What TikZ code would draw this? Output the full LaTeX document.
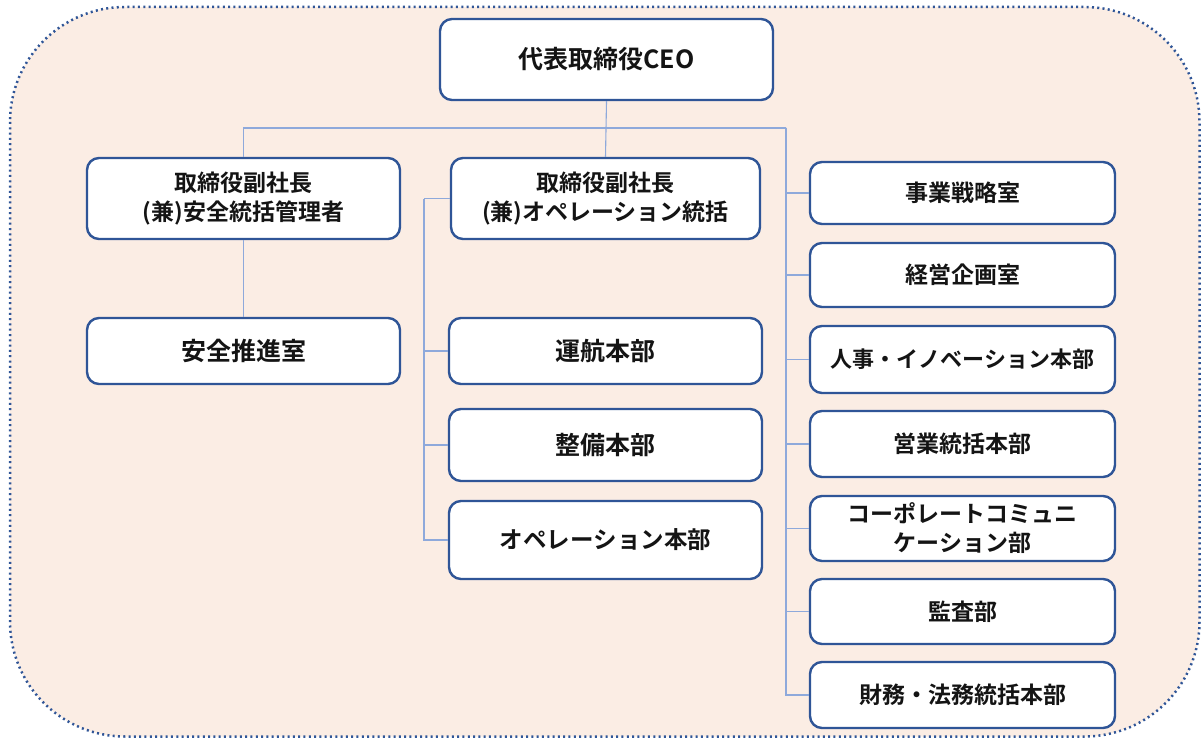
\documentclass[tikz,border=0pt]{standalone}
\usepackage{fontspec}
\setmainfont{Noto Sans CJK JP}[BoldFont={* Bold}]
\definecolor{bgfill}{HTML}{FBEDE4}
\definecolor{frame}{HTML}{2F5597}
\definecolor{boxline}{HTML}{2F5597}
\definecolor{wire}{HTML}{8EA9DB}
\definecolor{ink}{HTML}{141414}
\tikzset{
  orgbox/.style={draw=boxline, line width=2.4pt, fill=white, rounded corners=12pt,
    align=center, text=ink, inner sep=0pt,
    font=\fontsize{23}{29}\selectfont\bfseries},
  bigtext/.style={font=\fontsize{25}{30}\selectfont\bfseries},
  wireline/.style={draw=wire, line width=1.1pt},
}
\begin{document}
\begin{tikzpicture}[x=1pt,y=-1pt]
\useasboundingbox (0,0) rectangle (1201,738);
\draw[fill=bgfill, draw=frame, line width=2.5pt, dash pattern=on 2pt off 3.3pt, rounded corners=115pt]
  (10,7) rectangle (1199.5,736.5);

\coordinate (rbus) at (786,128);
\coordinate (mbus) at (424,198.5);

\node[orgbox, bigtext, minimum width=333pt, minimum height=81pt] (ceo) at (606.5,59.5) {代表取締役CEO};
\node[orgbox, minimum width=313pt, minimum height=81pt] (vp1) at (243.5,198.5) {取締役副社長\\(兼)安全統括管理者};
\node[orgbox, minimum width=309pt, minimum height=81pt] (vp2) at (605.5,198.5) {取締役副社長\\(兼)オペレーション統括};
\node[orgbox, bigtext, minimum width=313pt, minimum height=66pt] (anzen) at (243.5,351) {安全推進室};
\node[orgbox, bigtext, minimum width=313pt, minimum height=66pt] (unko) at (605.5,351) {運航本部};
\node[orgbox, bigtext, minimum width=313pt, minimum height=72pt] (seibi) at (605.5,445) {整備本部};
\node[orgbox, font=\fontsize{23.5}{29}\selectfont\bfseries, minimum width=313pt, minimum height=78pt] (ops) at (605.5,540) {オペレーション本部};
\node[orgbox, minimum width=305pt, minimum height=62pt] (jigyo) at (962.5,193) {事業戦略室};
\node[orgbox, minimum width=305pt, minimum height=64pt] (keiei) at (962.5,275) {経営企画室};
\node[orgbox, font=\fontsize{22}{28}\selectfont\bfseries, minimum width=305pt, minimum height=67pt] (jinji) at (962.5,359.5) {人事・イノベーション本部};
\node[orgbox, minimum width=305pt, minimum height=66pt] (eigyo) at (962.5,444) {営業統括本部};
\node[orgbox, minimum width=305pt, minimum height=65pt] (corp) at (962.5,528.5) {コーポレートコミュニ\\ケーション部};
\node[orgbox, minimum width=305pt, minimum height=65pt] (kansa) at (962.5,611.5) {監査部};
\node[orgbox, minimum width=305pt, minimum height=66pt] (zaimu) at (962.5,695) {財務・法務統括本部};

% wires
\draw[wireline] (ceo.south) -- (vp2.north);
\draw[wireline] (vp1.north) |- (rbus);
\draw[wireline] (vp1.south) -- (anzen.north);
\draw[wireline] (vp2.west) -- (mbus);
\draw[wireline] (mbus) |- (unko.west);
\draw[wireline] (mbus) |- (seibi.west);
\draw[wireline] (mbus) |- (ops.west);
\draw[wireline] (rbus) |- (jigyo.west);
\draw[wireline] (rbus) |- (keiei.west);
\draw[wireline] (rbus) |- (jinji.west);
\draw[wireline] (rbus) |- (eigyo.west);
\draw[wireline] (rbus) |- (corp.west);
\draw[wireline] (rbus) |- (kansa.west);
\draw[wireline] (rbus) |- (zaimu.west);
\end{tikzpicture}
\end{document}
